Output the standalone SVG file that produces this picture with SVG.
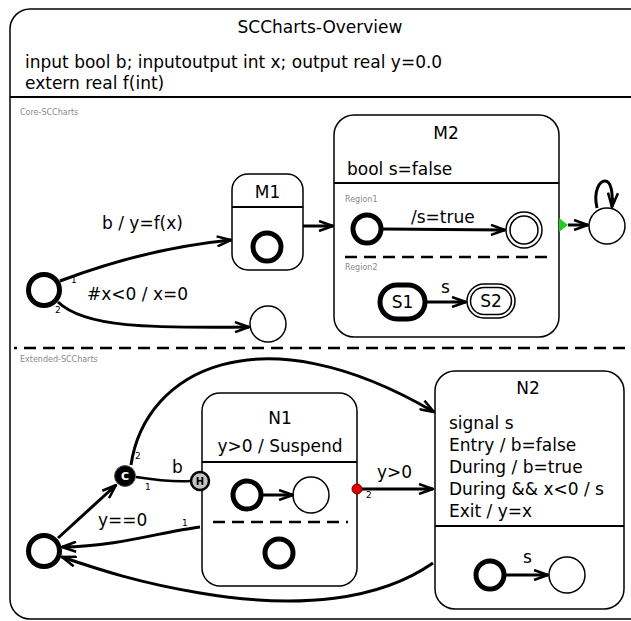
<svg xmlns="http://www.w3.org/2000/svg" width="631" height="621" viewBox="0 0 631 621">
  <style>
    text { font-family: "DejaVu Sans", "Liberation Sans", sans-serif; fill: #000; }
    .lbl { font-size: 17px; }
    .mid { text-anchor: middle; }
    .region { font-size: 8px; fill: #8a8a8a; }
    .prio { font-size: 9px; }
    .box { fill: #fff; stroke: #000; stroke-width: 1.5; }
    .state { fill: #fff; stroke: #000; stroke-width: 1.5; }
    .init { fill: #fff; stroke: #000; stroke-width: 5; }
    .sep { stroke: #000; stroke-width: 2; fill: none; }
    .dash { stroke: #000; stroke-width: 2.5; fill: none; stroke-dasharray: 12 7; }
    .edge { fill: none; stroke: #000; stroke-width: 3; }
  </style>
  <defs>
    <marker id="arrow" markerUnits="userSpaceOnUse" viewBox="0 0 16 12" markerWidth="16" markerHeight="12" refX="15" refY="6" orient="auto">
      <path d="M1,1 L15,6 L1,11" fill="none" stroke="#000" stroke-width="2.5" stroke-linejoin="miter"/>
      <path d="M6,4.5 L15,6 L6,7.5 Z" fill="#000"/>
    </marker>
  </defs>

  <!-- root state frame -->
  <g id="root">
    <rect x="10" y="9" width="640" height="610" rx="20" class="box"/>
    <text x="320" y="33" class="lbl mid">SCCharts-Overview</text>
    <text x="25" y="68" class="lbl">input bool b; inputoutput int x; output real y=0.0</text>
    <text x="25" y="89" class="lbl">extern real f(int)</text>
    <line x1="10" y1="97" x2="631" y2="97" class="sep"/>
    <text x="20" y="115" class="region">Core-SCCharts</text>
    <line x1="14" y1="348" x2="631" y2="348" class="dash" stroke-dashoffset="9"/>
    <text x="20" y="362" class="region">Extended-SCCharts</text>
  </g>

  <!-- Core-SCCharts region -->
  <g id="core-init">
    <circle cx="44" cy="290" r="15.5" class="init"/>
  </g>
  <g id="M1">
    <rect x="232" y="174" width="71" height="96" rx="16" class="box"/>
    <text x="267.5" y="198" class="lbl mid">M1</text>
    <line x1="232" y1="207" x2="303" y2="207" class="sep"/>
    <circle cx="267" cy="247" r="14" class="init"/>
  </g>
  <g id="core-target">
    <circle cx="268" cy="324" r="18" class="state"/>
  </g>
  <g id="M2">
    <rect x="334" y="115" width="225" height="222" rx="20" class="box"/>
    <text x="446" y="139" class="lbl mid">M2</text>
    <text x="347" y="175" class="lbl">bool s=false</text>
    <line x1="334" y1="183" x2="559" y2="183" class="sep"/>
    <text x="345" y="202" class="region">Region1</text>
    <g id="M2-r1-init"><circle cx="367" cy="229" r="14" class="init"/></g>
    <g id="M2-r1-final">
      <circle cx="524" cy="230" r="18" class="state"/>
      <circle cx="524" cy="230" r="14" class="state"/>
    </g>
    <line x1="345" y1="257" x2="551" y2="257" class="dash"/>
    <text x="345" y="270" class="region">Region2</text>
    <g id="S1">
      <rect x="380" y="285" width="45" height="34" rx="17" class="init"/>
      <text x="402.5" y="308" class="lbl mid">S1</text>
    </g>
    <g id="S2">
      <rect x="467" y="284" width="48" height="34" rx="17" class="state"/>
      <rect x="470.5" y="287.5" width="41" height="27" rx="13.5" class="state"/>
      <text x="491" y="307" class="lbl mid">S2</text>
    </g>
    <polygon points="559,218 568,225 559,232" fill="#22cc22"/>
  </g>
  <g id="core-sink">
    <circle cx="607" cy="226" r="18" class="state"/>
  </g>

  <!-- Extended-SCCharts region -->
  <g id="ext-init">
    <circle cx="44" cy="551" r="15.5" class="init"/>
  </g>
  <g id="cond">
    <circle cx="125" cy="476" r="10.5" fill="#000" stroke="#555" stroke-width="1"/>
    <text x="125" y="480" text-anchor="middle" font-size="11" font-weight="bold" style="fill:#fff">C</text>
  </g>
  <g id="N1">
    <rect x="202" y="393" width="155" height="193" rx="18" class="box"/>
    <text x="280" y="424" class="lbl mid">N1</text>
    <text x="280" y="452" class="lbl mid">y&gt;0 / Suspend</text>
    <line x1="202" y1="462" x2="357" y2="462" class="sep"/>
    <g id="N1-r1-init"><circle cx="247" cy="495" r="14" class="init"/></g>
    <g id="N1-r1-s"><circle cx="311" cy="495" r="18" class="state"/></g>
    <line x1="210" y1="522" x2="348" y2="522" class="dash" stroke-dashoffset="16"/>
    <g id="N1-r2-init"><circle cx="279" cy="553" r="14" class="init"/></g>
    <circle cx="357" cy="489" r="5" fill="#e00000" stroke="#700" stroke-width="1"/>
  </g>
  <g id="hist">
    <circle cx="200" cy="481" r="9" fill="#c4c4c4" stroke="#000" stroke-width="2.5"/>
    <text x="200" y="485" text-anchor="middle" font-size="10" font-weight="bold">H</text>
  </g>
  <g id="N2">
    <rect x="435" y="371" width="189" height="238" rx="20" class="box"/>
    <text x="528" y="394" class="lbl mid">N2</text>
    <text x="449" y="429" class="lbl">signal s</text>
    <text x="449" y="451" class="lbl">Entry / b=false</text>
    <text x="449" y="473" class="lbl">During / b=true</text>
    <text x="449" y="495" class="lbl">During &amp;&amp; x&lt;0 / s</text>
    <text x="449" y="517" class="lbl">Exit / y=x</text>
    <line x1="435" y1="526" x2="624" y2="526" class="sep"/>
    <g id="N2-init"><circle cx="490" cy="575" r="14" class="init"/></g>
    <g id="N2-s"><circle cx="567" cy="575" r="18" class="state"/></g>
  </g>

  <!-- transitions -->
  <g id="connectors">
    <path d="M60,281 C110,262 170,246 231,240" class="edge" marker-end="url(#arrow)"/>
    <text x="102" y="229" class="lbl">b / y=f(x)</text>
    <text x="71" y="283" class="prio">1</text>

    <path d="M58,302 C85,328 150,328 249,327" class="edge" marker-end="url(#arrow)"/>
    <text x="87" y="300" class="lbl">#x&lt;0 / x=0</text>
    <text x="55" y="313" class="prio">2</text>

    <path d="M303,226 L333,226" class="edge" marker-end="url(#arrow)"/>

    <path d="M382,229 L505,230" class="edge" marker-end="url(#arrow)"/>
    <text x="411" y="223" class="lbl">/s=true</text>

    <path d="M427,302 L466,302" class="edge" marker-end="url(#arrow)"/>
    <text x="441" y="293" class="lbl">s</text>

    <path d="M568,225 L588,225" class="edge" marker-end="url(#arrow)"/>
    <path d="M597,208 C593,190 600,181 605,181 C611,181 613,192 612,207" class="edge" marker-end="url(#arrow)"/>

    <path d="M58,538 L116,485" class="edge" marker-end="url(#arrow)"/>

    <path d="M136,477 C155,480 172,482 191,481" fill="none" stroke="#000" stroke-width="2.5"/>
    <text x="172" y="473" class="lbl">b</text>
    <text x="145" y="490" class="prio">1</text>

    <path d="M131,465 C145,370 260,310 434,412" class="edge" marker-end="url(#arrow)"/>
    <text x="135" y="459" class="prio">2</text>

    <path d="M263,495 L293,495" class="edge" marker-end="url(#arrow)"/>

    <path d="M362,489 L433,489" class="edge" marker-end="url(#arrow)"/>
    <text x="377" y="478" class="lbl">y&gt;0</text>
    <text x="366" y="498" class="prio">2</text>

    <path d="M200,527 C160,532 120,546 62,547" class="edge" marker-end="url(#arrow)"/>
    <text x="98" y="526" class="lbl">y==0</text>
    <text x="182" y="526" class="prio">1</text>

    <path d="M433,563 C380,600 300,610 200,593 C140,583 100,570 62,557" class="edge" marker-end="url(#arrow)"/>

    <path d="M506,575 L548,575" class="edge" marker-end="url(#arrow)"/>
    <text x="523" y="563" class="lbl">s</text>
  </g>
</svg>
